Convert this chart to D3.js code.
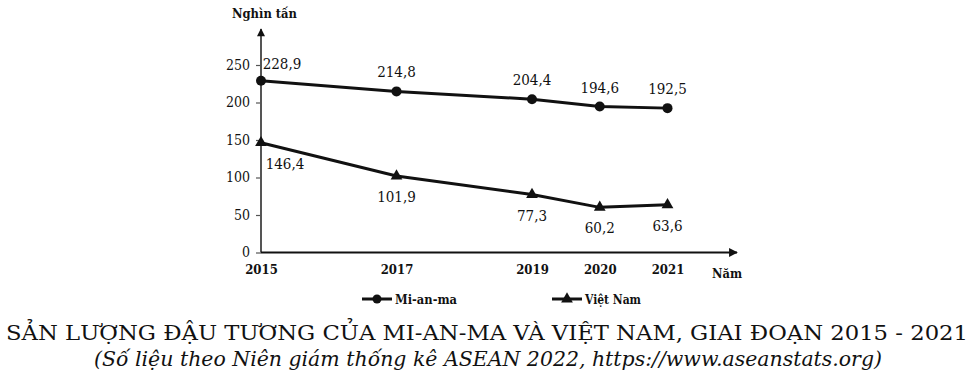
<!DOCTYPE html>
<html>
<head>
<meta charset="utf-8">
<script src="https://cdn.jsdelivr.net/npm/d3@7"></script>
<style>
  body { margin: 0; background: #fff; }
  svg { display: block; }
  svg text { font-family: "DejaVu Serif Condensed", "DejaVu Serif", serif; fill: #111; }
  svg text.ttl { font-family: "DejaVu Serif", serif; }
</style>
</head>
<body>
<svg id="chart" width="975" height="379"></svg>
<script>
const years = [2015, 2017, 2019, 2020, 2021];
const myanmar = [228.9, 214.8, 204.4, 194.6, 192.5];
const vietnam = [146.4, 101.9, 77.3, 60.2, 63.6];
const yTicks = [0, 50, 100, 150, 200, 250];
const seriesNames = ['Mi-an-ma', 'Việt Nam'];
const title = 'SẢN LƯỢNG ĐẬU TƯƠNG CỦA MI-AN-MA VÀ VIỆT NAM, GIAI ĐOẠN 2015 - 2021';
const subtitle = '(Số liệu theo Niên giám thống kê ASEAN 2022, https://www.aseanstats.org)';

const svg = d3.select('#chart');
const fmt = v => String(v).replace('.', ',');

// scales
const x = d3.scaleLinear().domain([2015, 2021]).range([261, 667.5]);
const y = d3.scaleLinear().domain([0, 250]).range([252.5, 65]);

// arrow marker
svg.append('defs').append('marker')
  .attr('id', 'arrow')
  .attr('viewBox', '0 0 10 10')
  .attr('refX', 9).attr('refY', 5)
  .attr('markerWidth', 5).attr('markerHeight', 4)
  .attr('markerUnits', 'strokeWidth')
  .attr('orient', 'auto')
  .append('path').attr('d', 'M0,0L10,5L0,10z').attr('fill', '#111');

// Y axis
const yAxis = svg.append('g')
  .attr('transform', `translate(${x(2015)},0)`)
  .call(d3.axisLeft(y).tickValues(yTicks).tickSize(5).tickPadding(6));
yAxis.attr('font-family', null);
yAxis.select('.domain').remove();
yAxis.selectAll('.tick line').attr('stroke', '#555').attr('stroke-width', 1.2);
yAxis.selectAll('.tick text').attr('font-size', 14).attr('fill', '#111');
svg.append('line')
  .attr('x1', x(2015)).attr('x2', x(2015))
  .attr('y1', y(0)).attr('y2', 29)
  .attr('stroke', '#555').attr('stroke-width', 2)
  .attr('marker-end', 'url(#arrow)');

// X axis
const xAxis = svg.append('g')
  .attr('transform', `translate(0,${y(0)})`)
  .call(d3.axisBottom(x).tickValues(years).tickFormat(d3.format('d')).tickSize(0).tickPadding(12));
xAxis.attr('font-family', null);
xAxis.select('.domain').remove();
xAxis.selectAll('.tick text')
  .attr('font-size', 13).attr('font-weight', 'bold').attr('fill', '#111');
svg.append('line')
  .attr('x1', x(2015)).attr('x2', 737)
  .attr('y1', y(0)).attr('y2', y(0))
  .attr('stroke', '#111').attr('stroke-width', 2.2)
  .attr('marker-end', 'url(#arrow)');

// axis titles
svg.append('text').attr('x', 232).attr('y', 18)
  .attr('font-size', 13).attr('font-weight', 'bold')
  .attr('textLength', 65).attr('lengthAdjust', 'spacingAndGlyphs')
  .text('Nghìn tấn');
svg.append('text').attr('x', 712).attr('y', 278)
  .attr('font-size', 13).attr('font-weight', 'bold')
  .attr('textLength', 30).attr('lengthAdjust', 'spacingAndGlyphs')
  .text('Năm');

const line = d3.line().x((d, i) => x(years[i])).y(d => y(d));

// Mi-an-ma
svg.append('path').datum(myanmar)
  .attr('d', line).attr('fill', 'none')
  .attr('stroke', '#111').attr('stroke-width', 3);
svg.selectAll('.dot-mm').data(myanmar).join('circle')
  .attr('cx', (d, i) => x(years[i])).attr('cy', d => y(d))
  .attr('r', 5).attr('fill', '#111');
svg.selectAll('.lbl-mm').data(myanmar).join('text')
  .attr('x', (d, i) => i === 0 ? x(years[i]) + 21 : x(years[i]))
  .attr('y', (d, i) => y(d) - (i === 0 ? 12 : 14))
  .attr('text-anchor', 'middle').attr('font-size', 15)
  .text(d => fmt(d));

// Việt Nam
const tri = d3.symbol().type(d3.symbolTriangle).size(60);
svg.append('path').datum(vietnam)
  .attr('d', line).attr('fill', 'none')
  .attr('stroke', '#111').attr('stroke-width', 3);
svg.selectAll('.dot-vn').data(vietnam).join('path')
  .attr('d', tri)
  .attr('transform', (d, i) => `translate(${x(years[i])},${y(d)})`)
  .attr('fill', '#111');
svg.selectAll('.lbl-vn').data(vietnam).join('text')
  .attr('x', (d, i) => i === 0 ? x(years[i]) + 24 : x(years[i]))
  .attr('y', (d, i) => y(d) + 26)
  .attr('text-anchor', 'middle').attr('font-size', 15)
  .text(d => fmt(d));

// legend
const legend = svg.append('g');
const lx = [362, 552];
const lw = [62, 56];
legend.selectAll('line').data(seriesNames).join('line')
  .attr('x1', (d, i) => lx[i]).attr('x2', (d, i) => lx[i] + 30)
  .attr('y1', 299).attr('y2', 299)
  .attr('stroke', '#111').attr('stroke-width', 3);
legend.append('circle').attr('cx', lx[0] + 15).attr('cy', 299).attr('r', 4.5).attr('fill', '#111');
legend.append('path').attr('d', tri).attr('transform', `translate(${lx[1] + 15},299)`).attr('fill', '#111');
legend.selectAll('text').data(seriesNames).join('text')
  .attr('x', (d, i) => lx[i] + 33).attr('y', 304)
  .attr('font-size', 13).attr('font-weight', 'bold')
  .attr('textLength', (d, i) => lw[i]).attr('lengthAdjust', 'spacingAndGlyphs')
  .text(d => d);

// title
svg.append('text').attr('class', 'ttl').attr('x', 487).attr('y', 340)
  .attr('text-anchor', 'middle').attr('font-size', 21)
  .attr('textLength', 962).attr('lengthAdjust', 'spacingAndGlyphs')
  .text(title);
svg.append('text').attr('class', 'ttl').attr('x', 488).attr('y', 366)
  .attr('text-anchor', 'middle').attr('font-size', 21).attr('font-style', 'italic')
  .attr('textLength', 788).attr('lengthAdjust', 'spacingAndGlyphs')
  .text(subtitle);
</script>
</body>
</html>
